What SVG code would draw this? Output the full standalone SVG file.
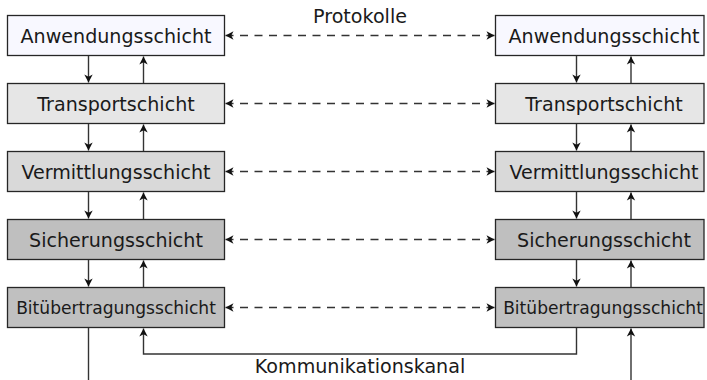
<svg xmlns="http://www.w3.org/2000/svg" width="707" height="380" viewBox="0 0 707 380">
<style>
.box{stroke:#262626;stroke-width:1.3}
.t{font-family:"DejaVu Sans",sans-serif;font-size:19.1px;fill:#1a1a1a;text-anchor:middle}
.ts{font-size:17.1px}
.c{fill:none;stroke:#333;stroke-width:1.4}
.d{stroke-dasharray:8,6.5}
</style>
<defs>
<marker id="a" viewBox="-9 -5 10 10" refX="0" refY="0" markerWidth="10" markerHeight="10" markerUnits="userSpaceOnUse" orient="auto-start-reverse">
<path d="M0,0 L-8,-4.2 L-5.8,0 L-8,4.2 Z" fill="#111"/>
</marker>
</defs>
<rect width="707" height="380" fill="#fff"/>
<g id="l1"><rect class="box" x="7.5" y="15.5" width="217" height="40" fill="#f8f8ff"/><text class="t" x="116" y="42.6">Anwendungsschicht</text></g>
<g id="l2"><rect class="box" x="7.5" y="83.5" width="217" height="40" fill="#e6e6e6"/><text class="t" x="116" y="110.6">Transportschicht</text></g>
<g id="l3"><rect class="box" x="7.5" y="151.5" width="217" height="40" fill="#d9d9d9"/><text class="t" x="116" y="178.6">Vermittlungsschicht</text></g>
<g id="l4"><rect class="box" x="7.5" y="219.5" width="217" height="40" fill="#bfbfbf"/><text class="t" x="116" y="246.6">Sicherungsschicht</text></g>
<g id="l5"><rect class="box" x="7.5" y="287.5" width="217" height="40" fill="#c0c0c0"/><text class="t ts" x="116" y="313.5">Bitübertragungsschicht</text></g>
<g id="r1"><rect class="box" x="495.5" y="15.5" width="208.5" height="40" fill="#f8f8ff"/><text class="t" x="604" y="42.6">Anwendungsschicht</text></g>
<g id="r2"><rect class="box" x="495.5" y="83.5" width="208.5" height="40" fill="#e6e6e6"/><text class="t" x="604" y="110.6">Transportschicht</text></g>
<g id="r3"><rect class="box" x="495.5" y="151.5" width="208.5" height="40" fill="#d9d9d9"/><text class="t" x="604" y="178.6">Vermittlungsschicht</text></g>
<g id="r4"><rect class="box" x="495.5" y="219.5" width="208.5" height="40" fill="#bfbfbf"/><text class="t" x="604" y="246.6">Sicherungsschicht</text></g>
<g id="r5"><rect class="box" x="495.5" y="287.5" width="208.5" height="40" fill="#c0c0c0"/><text class="t ts" x="603" y="313.5">Bitübertragungsschicht</text></g>
<g id="labels">
<text class="t" x="360" y="22.5">Protokolle</text>
<text class="t" x="360" y="373.3">Kommunikationskanal</text>
</g>
<g id="connectors">
<path class="c d" d="M225.5,35.5 H494.5" marker-start="url(#a)" marker-end="url(#a)"/>
<path class="c d" d="M225.5,103.5 H494.5" marker-start="url(#a)" marker-end="url(#a)"/>
<path class="c d" d="M225.5,171.5 H494.5" marker-start="url(#a)" marker-end="url(#a)"/>
<path class="c d" d="M225.5,239.5 H494.5" marker-start="url(#a)" marker-end="url(#a)"/>
<path class="c d" d="M225.5,307.5 H494.5" marker-start="url(#a)" marker-end="url(#a)"/>
<path class="c" d="M88.5,56 V82.5" marker-end="url(#a)"/>
<path class="c" d="M88.5,124 V150.5" marker-end="url(#a)"/>
<path class="c" d="M88.5,192 V218.5" marker-end="url(#a)"/>
<path class="c" d="M88.5,260 V286.5" marker-end="url(#a)"/>
<path class="c" d="M143.5,83 V56.5" marker-end="url(#a)"/>
<path class="c" d="M143.5,151 V124.5" marker-end="url(#a)"/>
<path class="c" d="M143.5,219 V192.5" marker-end="url(#a)"/>
<path class="c" d="M143.5,287 V260.5" marker-end="url(#a)"/>
<path class="c" d="M576.5,56 V82.5" marker-end="url(#a)"/>
<path class="c" d="M576.5,124 V150.5" marker-end="url(#a)"/>
<path class="c" d="M576.5,192 V218.5" marker-end="url(#a)"/>
<path class="c" d="M576.5,260 V286.5" marker-end="url(#a)"/>
<path class="c" d="M631,83 V56.5" marker-end="url(#a)"/>
<path class="c" d="M631,151 V124.5" marker-end="url(#a)"/>
<path class="c" d="M631,219 V192.5" marker-end="url(#a)"/>
<path class="c" d="M631,287 V260.5" marker-end="url(#a)"/>
<path class="c" d="M88.5,328 V380"/>
<path class="c" d="M576.5,328 V354 H143.5 V328.5" marker-end="url(#a)"/>
<path class="c" d="M631,380 V328.5" marker-end="url(#a)"/>
</g>
</svg>
